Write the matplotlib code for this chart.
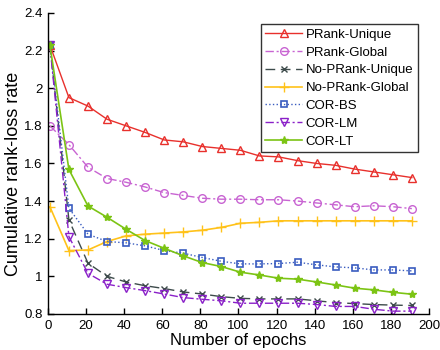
import numpy as np
import matplotlib
matplotlib.use("Agg")
import matplotlib.pyplot as plt

plt.rcParams['font.family'] = ['Liberation Sans', 'DejaVu Sans']

# Data
epochs = [1, 11, 21, 31, 41, 51, 61, 71, 81, 91, 101, 111, 121, 131, 141, 151, 161, 171, 181, 191]

prank_unique = [2.23, 1.95, 1.905, 1.835, 1.80, 1.765, 1.725, 1.715, 1.69, 1.68,
                 1.67, 1.64, 1.635, 1.615, 1.60, 1.59, 1.57, 1.555, 1.54, 1.525]
prank_global = [1.80, 1.70, 1.58, 1.52, 1.50, 1.475, 1.445, 1.43, 1.415, 1.41,
                1.41, 1.407, 1.407, 1.40, 1.39, 1.38, 1.37, 1.375, 1.37, 1.36]
noprank_unique = [2.23, 1.30, 1.07, 1.00, 0.97, 0.95, 0.935, 0.917, 0.906, 0.892,
                  0.883, 0.88, 0.88, 0.88, 0.87, 0.86, 0.855, 0.85, 0.847, 0.845]
noprank_global = [1.37, 1.137, 1.14, 1.185, 1.215, 1.224, 1.23, 1.236, 1.245, 1.26,
                  1.282, 1.287, 1.295, 1.295, 1.295, 1.295, 1.295, 1.295, 1.295, 1.295]
cor_bs = [2.23, 1.362, 1.224, 1.185, 1.178, 1.162, 1.137, 1.123, 1.10, 1.08,
          1.066, 1.066, 1.068, 1.075, 1.061, 1.05, 1.045, 1.034, 1.034, 1.029]
cor_lm = [2.23, 1.211, 1.016, 0.958, 0.94, 0.924, 0.906, 0.887, 0.878, 0.87,
          0.857, 0.857, 0.857, 0.857, 0.85, 0.84, 0.84, 0.825, 0.815, 0.815]
cor_lt = [2.23, 1.568, 1.374, 1.314, 1.25, 1.19, 1.149, 1.109, 1.073, 1.052,
          1.022, 1.007, 0.99, 0.985, 0.97, 0.954, 0.937, 0.928, 0.915, 0.905]

fig = plt.figure(figsize=(4.4, 3.5), dpi=100)
ax = fig.add_axes([0.109, 0.103, 0.866, 0.86])

ax.plot(epochs, prank_unique, color='#e8302c', linestyle='-', marker='^', ms=6,
        mfc='none', mew=1.0, lw=1.0, label='PRank-Unique')
ax.plot(epochs, prank_global, color='#c864d2', linestyle=(0, (6, 2, 1.5, 2)), marker='o', ms=5.5,
        mfc='none', mew=1.0, lw=1.0, label='PRank-Global')
ax.plot(epochs, noprank_unique, color='#3d4b4b', linestyle=(0, (7, 4)), marker='x', ms=4.5,
        mew=1.0, lw=1.0, label='No-PRank-Unique')
ax.plot(epochs, noprank_global, color='#ffc21a', linestyle='-', marker='+', ms=7,
        mew=1.0, lw=1.2, label='No-PRank-Global')
ax.plot(epochs, cor_bs, color='#3a5cc0', linestyle=':', marker='s', ms=4.5,
        mfc='none', mew=1.2, lw=1.0, label='COR-BS')
ax.plot(epochs, cor_lm, color='#8a20c8', linestyle=(0, (6, 2, 1.5, 2)), marker='v', ms=6,
        mfc='none', mew=1.0, lw=1.0, label='COR-LM')
ax.plot(epochs, cor_lt, color='#7cc414', linestyle='-', marker='*', ms=6,
        mew=1.0, lw=1.2, label='COR-LT')

ax.set_xlim(0, 200)
ax.set_ylim(0.8, 2.4)
ax.set_xticks(np.arange(0, 201, 20))
ax.set_yticks([0.8, 1.0, 1.2, 1.4, 1.6, 1.8, 2.0, 2.2, 2.4])
ax.set_yticklabels(['0.8', '1', '1.2', '1.4', '1.6', '1.8', '2', '2.2', '2.4'])
ax.tick_params(direction='in', length=4, width=1, labelsize=9.5, pad=4)

ax.spines['top'].set_visible(False)
ax.spines['right'].set_visible(False)
ax.spines['left'].set_linewidth(1)
ax.spines['bottom'].set_linewidth(1)

ax.set_xlabel('Number of epochs', fontsize=12, labelpad=1)
ax.set_ylabel('Cumulative rank-loss rate', fontsize=13)
ax.yaxis.set_label_coords(-0.068, 0.467)

leg = ax.legend(loc='upper right', bbox_to_anchor=(0.971, 0.963), fontsize=9.5, frameon=True,
                fancybox=False, edgecolor='black', handlelength=2.8, handletextpad=0.25,
                labelspacing=0.42, borderpad=0.35, borderaxespad=0.0)
leg.get_frame().set_linewidth(1.0)

fig.savefig('out.png', dpi=100)
